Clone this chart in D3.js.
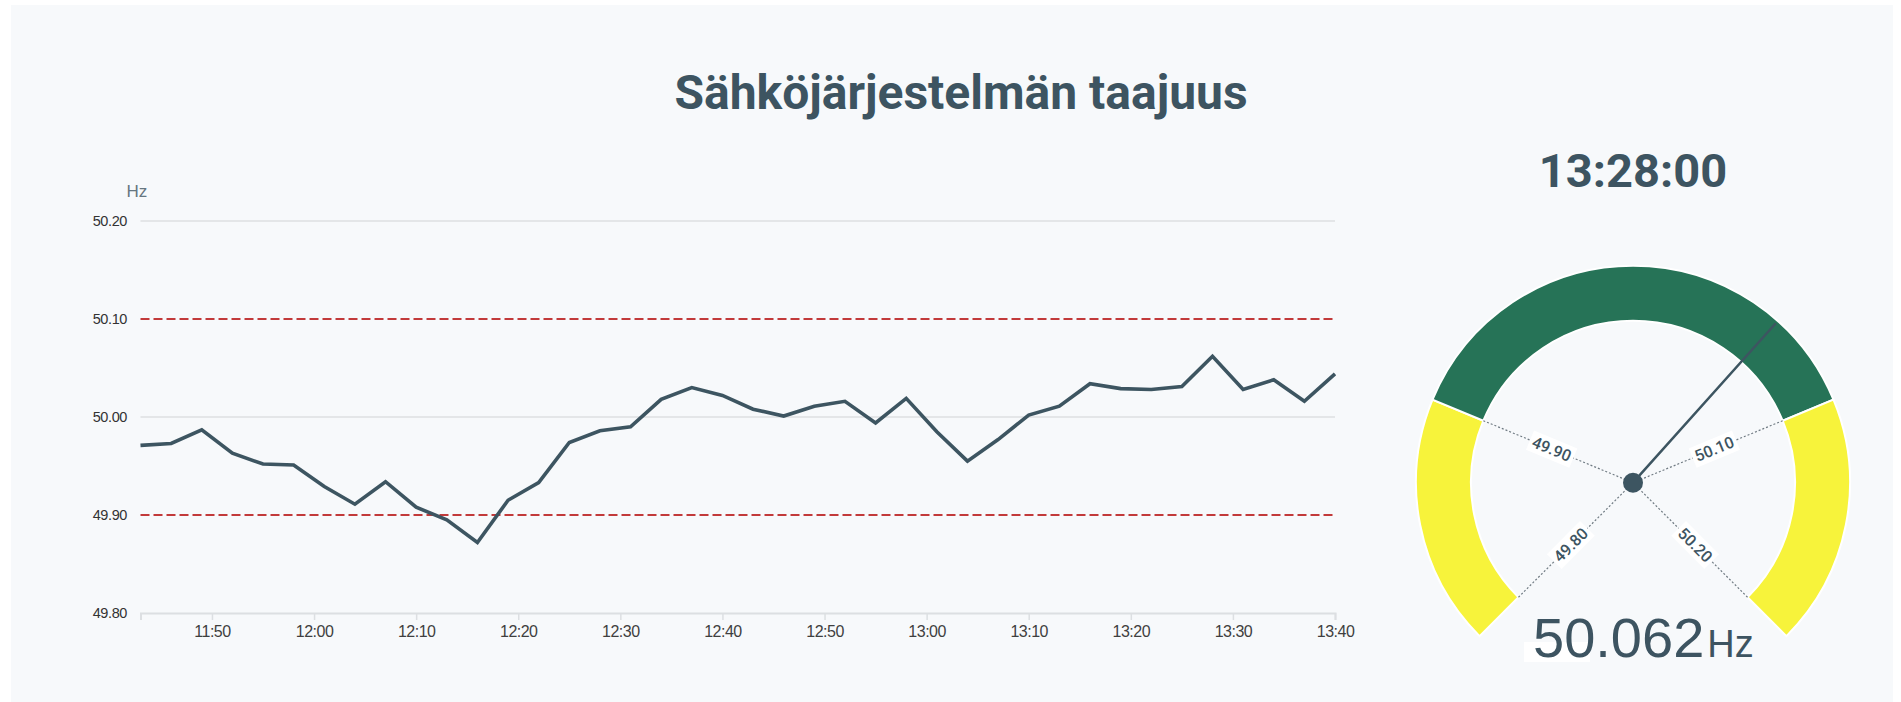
<!DOCTYPE html>
<html>
<head>
<meta charset="utf-8">
<script src="https://cdn.jsdelivr.net/npm/d3@7"></script>
<style>
  html, body { margin: 0; padding: 0; background: #ffffff; }
  svg { display: block; }
</style>
</head>
<body>
<svg id="chart" width="1901" height="702"></svg>
<script>
// ---------------- DATA ----------------
const title = "Sähköjärjestelmän taajuus";
const unit = "Hz";
const times = [
  "11:43","11:46","11:49","11:52","11:55","11:58","12:01","12:04","12:07","12:10",
  "12:13","12:16","12:19","12:22","12:25","12:28","12:31","12:34","12:37","12:40",
  "12:43","12:46","12:49","12:52","12:55","12:58","13:01","13:04","13:07","13:10",
  "13:13","13:16","13:19","13:22","13:25","13:28","13:31","13:34","13:37","13:40"
];
const frequency = [
  49.971, 49.973, 49.987, 49.963, 49.952, 49.951, 49.929, 49.911, 49.934, 49.908,
  49.895, 49.872, 49.915, 49.933, 49.974, 49.986, 49.990, 50.018, 50.030, 50.022,
  50.008, 50.001, 50.011, 50.016, 49.994, 50.019, 49.985, 49.955, 49.977, 50.002,
  50.011, 50.034, 50.029, 50.028, 50.031, 50.062, 50.028, 50.038, 50.016, 50.044
];
const yTicks = [49.80, 49.90, 50.00, 50.10, 50.20];
const gridValues = [50.00, 50.20];
const limitValues = [49.90, 50.10];
const xDomain = ["11:43", "13:40"];

const gaugeTime = "13:28:00";
const gaugeValue = 50.062;
const gaugeRange = [49.80, 50.20];
const gaugeBands = [
  { from: 49.80, to: 49.90, color: "#f7f33b" },
  { from: 49.90, to: 50.10, color: "#267357" },
  { from: 50.10, to: 50.20, color: "#f7f33b" }
];
const gaugeTicks = [49.80, 49.90, 50.10, 50.20];

// ---------------- SETUP ----------------
const svg = d3.select("#chart");
const ink = "#3d5461";
const parseT = s => { const [h, m] = s.split(":").map(Number); return new Date(2024, 0, 1, h, m, 0); };

// panel
svg.append("rect").attr("x", 11).attr("y", 5).attr("width", 1882).attr("height", 710)
  .attr("fill", "#f7f9fb");

// title
svg.append("text").attr("x", 961).attr("y", 109).attr("text-anchor", "middle")
  .attr("font-family", "Roboto, 'Noto Sans', sans-serif").attr("font-weight", 700)
  .attr("font-size", 48).attr("fill", ink).text(title);

// ---------------- LINE CHART ----------------
const x = d3.scaleTime().domain(xDomain.map(parseT)).range([140.5, 1335]);
const y = d3.scaleLinear().domain([49.80, 50.20]).range([613, 221]);

// y labels
svg.append("g").selectAll("text").data(yTicks).join("text")
  .attr("x", 127).attr("y", d => y(d)).attr("dy", "0.35em")
  .attr("text-anchor", "end")
  .attr("font-family", "'Liberation Sans', Arial, sans-serif")
  .attr("font-size", 14.5).attr("letter-spacing", -0.4).attr("fill", "#333333")
  .text(d => d3.format(".2f")(d));

// unit
svg.append("text").attr("x", 126.5).attr("y", 197)
  .attr("font-family", "'Liberation Sans', Arial, sans-serif")
  .attr("font-size", 17).attr("fill", "#667680").text(unit);

// grid
svg.append("g").selectAll("line").data(gridValues).join("line")
  .attr("x1", x.range()[0]).attr("x2", x.range()[1])
  .attr("y1", d => y(d)).attr("y2", d => y(d))
  .attr("stroke", "#e4e6e8").attr("stroke-width", 2);

svg.append("g").selectAll("line").data(limitValues).join("line")
  .attr("x1", x.range()[0]).attr("x2", x.range()[1])
  .attr("y1", d => y(d)).attr("y2", d => y(d))
  .attr("stroke", "#c23a3a").attr("stroke-width", 1.8)
  .attr("stroke-dasharray", "9,4");

// x axis
const xAxis = d3.axisBottom(x)
  .ticks(d3.timeMinute.every(10))
  .tickFormat(d3.timeFormat("%H:%M"))
  .tickSize(7).tickSizeOuter(7).tickPadding(6);
const gx = svg.append("g").attr("transform", `translate(0,${y(49.80)})`).call(xAxis);
gx.select(".domain").attr("stroke", "#dcdfe2").attr("stroke-width", 2);
gx.selectAll(".tick line").attr("stroke", "#dcdfe2").attr("stroke-width", 1.5);
gx.selectAll(".tick text")
  .attr("font-family", "'Liberation Sans', Arial, sans-serif")
  .attr("font-size", 16).attr("letter-spacing", -0.5).attr("fill", "#3f3f3f");

// line
const line = d3.line().x((d, i) => x(parseT(times[i]))).y(d => y(d));
svg.append("path").datum(frequency).attr("d", line)
  .attr("fill", "none").attr("stroke", "#3d5561").attr("stroke-width", 3.6)
  .attr("stroke-linejoin", "miter");

// ---------------- GAUGE ----------------
const cx = 1633, cy = 482.7, rOuter = 217, rInner = 162;
const ang = d3.scaleLinear().domain(gaugeRange).range([-135 * Math.PI / 180, 135 * Math.PI / 180]);
const g = svg.append("g").attr("transform", `translate(${cx},${cy})`);

svg.append("text").attr("x", cx).attr("y", 187).attr("text-anchor", "middle")
  .attr("font-family", "Roboto, 'Noto Sans', sans-serif").attr("font-weight", 700)
  .attr("font-size", 47).attr("fill", ink).text(gaugeTime);

const arc = d3.arc().innerRadius(rInner).outerRadius(rOuter);
g.selectAll("path.band").data(gaugeBands).join("path").attr("class", "band")
  .attr("d", d => arc({ startAngle: ang(d.from), endAngle: ang(d.to) }))
  .attr("fill", d => d.color).attr("stroke", "#ffffff").attr("stroke-width", 2);

// tick rays
g.selectAll("line.ray").data(gaugeTicks).join("line").attr("class", "ray")
  .attr("x1", 0).attr("y1", 0)
  .attr("x2", d => rInner * Math.sin(ang(d)))
  .attr("y2", d => -rInner * Math.cos(ang(d)))
  .attr("stroke", "#6f7a82").attr("stroke-width", 1.2).attr("stroke-dasharray", "2,2");

// tick labels
const labs = g.selectAll("g.lab").data(gaugeTicks).join("g").attr("class", "lab")
  .attr("transform", d => {
    const a = ang(d), deg = a * 180 / Math.PI;
    const rot = deg > 0 ? deg - 90 : deg + 90;
    return `translate(${88 * Math.sin(a)},${-88 * Math.cos(a)}) rotate(${rot})`;
  });
labs.append("rect");
labs.append("text").attr("text-anchor", "middle").attr("dy", "0.35em")
  .attr("font-family", "Roboto, 'Noto Sans', sans-serif").attr("font-weight", 500)
  .attr("font-size", 16).attr("fill", ink)
  .text(d => d3.format(".2f")(d));
labs.each(function () {
  const t = d3.select(this).select("text").node().getBBox();
  d3.select(this).select("rect")
    .attr("x", t.x - 3).attr("y", t.y - 1).attr("width", t.width + 6).attr("height", t.height + 2)
    .attr("fill", "#ffffff");
});

// needle
const na = ang(gaugeValue);
g.append("line").attr("x1", 0).attr("y1", 0)
  .attr("x2", 213 * Math.sin(na)).attr("y2", -213 * Math.cos(na))
  .attr("stroke", "#3d5561").attr("stroke-width", 2.5).attr("stroke-linecap", "round");
g.append("circle").attr("r", 10).attr("fill", "#3d5561");

// value readout
svg.append("rect").attr("x", 1524).attr("y", 642).attr("width", 66).attr("height", 20).attr("fill", "#ffffff");
const vt = svg.append("text").attr("x", 1533).attr("y", 657)
  .attr("font-family", "'Liberation Sans', Arial, sans-serif").attr("fill", ink);
vt.append("tspan").attr("font-size", 56).text(d3.format(".3f")(gaugeValue));
vt.append("tspan").attr("font-size", 38).attr("dx", 3).text(unit);
</script>
</body>
</html>
